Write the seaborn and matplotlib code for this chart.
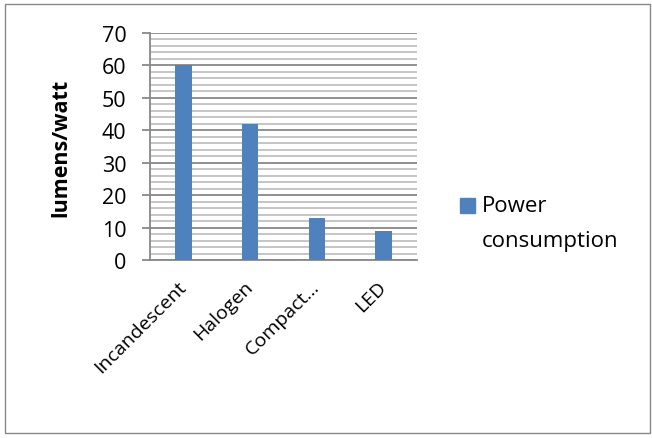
import matplotlib
matplotlib.use("Agg")
import matplotlib.pyplot as plt
import seaborn as sns
import pandas as pd
from matplotlib.patches import Rectangle
from matplotlib.ticker import MultipleLocator

categories = ["Incandescent", "Halogen", "Compact…", "LED"]
values = [60, 42, 13, 9]
series_name = "Power consumption"

df = pd.DataFrame({"cat": categories, "val": values})

sns.set_theme(style="white")
plt.rcParams['font.family'] = ['Open Sans', 'DejaVu Sans']
plt.rcParams['text.color'] = 'black'
plt.rcParams['axes.labelcolor'] = 'black'
plt.rcParams['xtick.color'] = 'black'
plt.rcParams['ytick.color'] = 'black'

fig = plt.figure(figsize=(6.52, 4.39), dpi=100)
ax = fig.add_axes([150/652, 1-261/439, 267/652, 227/439])

bar_color = "#4f81bd"
sns.barplot(data=df, x="cat", y="val", color=bar_color, width=0.25, ax=ax,
            saturation=1, linewidth=0, zorder=3)

ax.set_ylim(0, 70)
ax.set_xlim(-0.5, 3.5)
ax.yaxis.set_major_locator(MultipleLocator(10))
ax.yaxis.set_minor_locator(MultipleLocator(2))
ax.grid(which="minor", axis="y", color="#c0c0c0", linewidth=1.3, zorder=0)
ax.grid(which="major", axis="y", color="#888888", linewidth=1.3, zorder=1)
ax.set_axisbelow(True)

for s in ["top", "right"]:
    ax.spines[s].set_visible(False)
ax.spines["left"].set_color("#888888")
ax.spines["left"].set_linewidth(1.3)
ax.spines["bottom"].set_color("#888888")
ax.spines["bottom"].set_linewidth(1.3)

ax.tick_params(axis="y", which="major", left=True, length=6, width=1.3,
               color="#888888", labelcolor="black", labelsize=15.5, pad=11)
ax.tick_params(axis="y", which="minor", left=False)
ax.tick_params(axis="x", bottom=False, labelsize=14, pad=11, labelcolor="black")
ax.set_xticks(range(len(categories)))
ax.set_xticklabels(categories, rotation=45, ha="right", va="center",
                   rotation_mode="anchor")

ax.set_xlabel("")
ax.set_ylabel("lumens/watt", fontsize=15.5, fontweight="bold", labelpad=22,
              color="black")

# legend
fig.patches.append(Rectangle((460/652, 1-214/439), 15/652, 15/439,
                             transform=fig.transFigure, color=bar_color))
fig.text(482/652, 1-207/439, "Power", fontsize=16, va="center", ha="left")
fig.text(482/652, 1-242/439, "consumption", fontsize=16, va="center", ha="left")

# outer border
fig.patches.append(Rectangle((4.5/652, 1-433.5/439), 645/652, 429/439,
                             transform=fig.transFigure, fill=False,
                             edgecolor="#888888", linewidth=1))

fig.savefig("out.png", dpi=100)
